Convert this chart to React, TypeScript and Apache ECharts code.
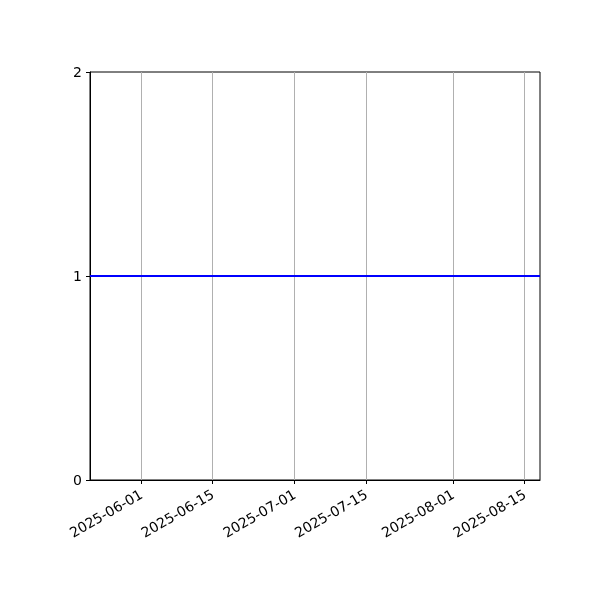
import { useRef, useEffect } from "react";
import * as echarts from "echarts";

// data
const startDate = "2025-05-22";
const endDate = "2025-08-18";
const lineDates = [startDate, endDate];
const lineValues = [1, 1];
const yTicks = [0, 1, 2];

// one category per day, so the axis stays linear in time
const days: string[] = [];
for (
  let t = Date.UTC(2025, 4, 22);
  t <= Date.UTC(2025, 7, 18);
  t += 86400000
) {
  days.push(new Date(t).toISOString().slice(0, 10));
}

const isTickDay = (_i: number, v: string) =>
  v.endsWith("-01") || v.endsWith("-15");

const App = () => {
  const chartRef = useRef<HTMLDivElement>(null);

  useEffect(() => {
    const myChart = echarts.init(chartRef.current, null, { renderer: "svg" });
    const font = "DejaVu Sans";
    myChart.setOption({
      animation: false,
      textStyle: { fontFamily: font },
      grid: {
        left: 90,
        right: 60,
        top: 72,
        bottom: 120,
        show: true,
        borderColor: "#000",
        borderWidth: 1,
        backgroundColor: "transparent",
      },
      xAxis: {
        type: "category",
        data: days,
        boundaryGap: false,
        axisLine: { show: true, lineStyle: { color: "#000", width: 1 } },
        axisTick: {
          show: true,
          interval: isTickDay,
          length: 4,
          lineStyle: { color: "#000", width: 1 },
        },
        axisLabel: {
          interval: isTickDay,
          rotate: 30,
          margin: 13,
          color: "#000",
          fontSize: 14,
          fontFamily: font,
        },
        splitLine: {
          show: true,
          interval: isTickDay,
          lineStyle: { color: "#b0b0b0", width: 1 },
        },
      },
      yAxis: {
        type: "value",
        min: yTicks[0],
        max: yTicks[yTicks.length - 1],
        interval: 1,
        axisLine: { show: true, lineStyle: { color: "#000", width: 1 } },
        axisTick: { show: true, length: 4, lineStyle: { color: "#000" } },
        axisLabel: { color: "#000", fontSize: 14, margin: 8, fontFamily: font },
        splitLine: { show: false },
      },
      series: [
        {
          type: "line",
          data: lineDates.map((d, i) => [d, lineValues[i]]),
          showSymbol: false,
          lineStyle: { color: "#0000ff", width: 2 },
          itemStyle: { color: "#0000ff" },
        },
      ],
    });
    return () => {
      myChart.dispose();
    };
  }, []);

  return (
    <div
      ref={chartRef}
      style={{ position: "fixed", left: 0, top: 0, width: "600px", height: "600px" }}
    ></div>
  );
};

export default App;
